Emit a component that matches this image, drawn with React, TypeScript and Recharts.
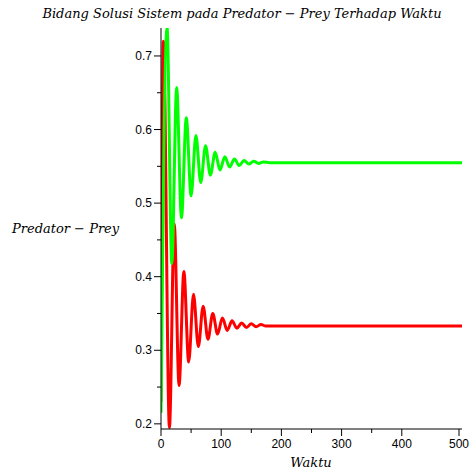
import { Line, LineChart, XAxis, YAxis } from "recharts";

// green curve (settles near 0.555)
const greenTime = [0, 10, 18, 26, 34, 42, 50, 58, 66, 74, 82, 90, 98, 106, 114, 122, 130, 138, 146, 154, 162, 170, 180, 200, 300, 400, 500];
const greenValue = [0.215, 0.739, 0.418, 0.657, 0.48, 0.616, 0.51, 0.592, 0.528, 0.578, 0.538, 0.569, 0.545, 0.563, 0.549, 0.56, 0.551, 0.558, 0.553, 0.557, 0.554, 0.556, 0.555, 0.555, 0.555, 0.555, 0.555];

// red curve (settles near 0.333)
const redTime = [0, 4, 14, 22, 30, 38, 46, 54, 62, 70, 78, 86, 94, 102, 110, 118, 126, 134, 142, 150, 158, 166, 174, 200, 300, 400, 500];
const redValue = [0.23, 0.72, 0.195, 0.472, 0.252, 0.407, 0.284, 0.376, 0.305, 0.36, 0.315, 0.35, 0.322, 0.344, 0.327, 0.34, 0.33, 0.337, 0.331, 0.336, 0.332, 0.335, 0.333, 0.333, 0.333, 0.333, 0.333];

const xTicks = [0, 50, 100, 150, 200, 250, 300, 350, 400, 450, 500];
const yTicks = [0.2, 0.25, 0.3, 0.35, 0.4, 0.45, 0.5, 0.55, 0.6, 0.65, 0.7];

const TITLE = "Bidang Solusi Sistem pada Predator \u2212 Prey Terhadap Waktu";
const Y_LABEL = "Predator \u2212 Prey";
const X_LABEL = "Waktu";

const greenData = greenTime.map((t, i) => ({ t, v: greenValue[i] }));
const redData = redTime.map((t, i) => ({ t, v: redValue[i] }));

const TICK_FONT = "'Liberation Sans', Arial, sans-serif";
const LABEL_FONT = "'DejaVu Serif', serif";

function XTick({ x, y, payload }: any) {
  const major = payload.value % 100 === 0;
  return (
    <g>
      <line x1={x} x2={x} y1={y} y2={y + (major ? 7 : 4)} stroke="#000" />
      {major && (
        <text x={x} y={y + 15} textAnchor="middle" dominantBaseline="central" fontSize={12} fontFamily={TICK_FONT} fill="#000">
          {payload.value}
        </text>
      )}
    </g>
  );
}

function YTick({ x, y, payload }: any) {
  const major = Math.round(payload.value * 100) % 10 === 0;
  return (
    <g>
      <line x1={x} x2={x - (major ? 7 : 4)} y1={y} y2={y} stroke="#000" />
      {major && (
        <text x={x - 9} y={y} textAnchor="end" dominantBaseline="central" fontSize={12} fontFamily={TICK_FONT} fill="#000">
          {payload.value.toFixed(1)}
        </text>
      )}
    </g>
  );
}

export default function App() {
  return (
    <div style={{ position: "absolute", left: 0, top: 0, width: 471, height: 470, background: "#fff" }}>
      <LineChart width={471} height={470} margin={{ top: 28, right: 9, bottom: 11, left: 121 }}>
        <XAxis
          type="number"
          dataKey="t"
          domain={[0, 500]}
          ticks={xTicks}
          tick={<XTick />}
          tickSize={0}
          tickMargin={0}
          height={30}
          stroke="#000"
          allowDataOverflow
        />
        <YAxis
          type="number"
          domain={[0.193, 0.738]}
          ticks={yTicks}
          tick={<YTick />}
          tickSize={0}
          tickMargin={0}
          width={40}
          stroke="#000"
          allowDataOverflow
        />
        <Line data={redData} dataKey="v" type="monotone" stroke="#FF0000" strokeWidth={3} dot={false} isAnimationActive={false} />
        <Line data={greenData} dataKey="v" type="monotone" stroke="#00FF00" strokeWidth={3} dot={false} isAnimationActive={false} />
      </LineChart>
      <svg width={471} height={470} style={{ position: "absolute", left: 0, top: 0, pointerEvents: "none" }}>
        <text x={242} y={13} textAnchor="middle" dominantBaseline="central" fontSize={13} fontStyle="italic" fontFamily={LABEL_FONT} fill="#000">
          {TITLE}
        </text>
        <text x={12} y={228} dominantBaseline="central" fontSize={13} fontStyle="italic" fontFamily={LABEL_FONT} fill="#000">
          {Y_LABEL}
        </text>
        <text x={311} y={462} textAnchor="middle" dominantBaseline="central" fontSize={13} fontStyle="italic" fontFamily={LABEL_FONT} fill="#000">
          {X_LABEL}
        </text>
      </svg>
    </div>
  );
}
